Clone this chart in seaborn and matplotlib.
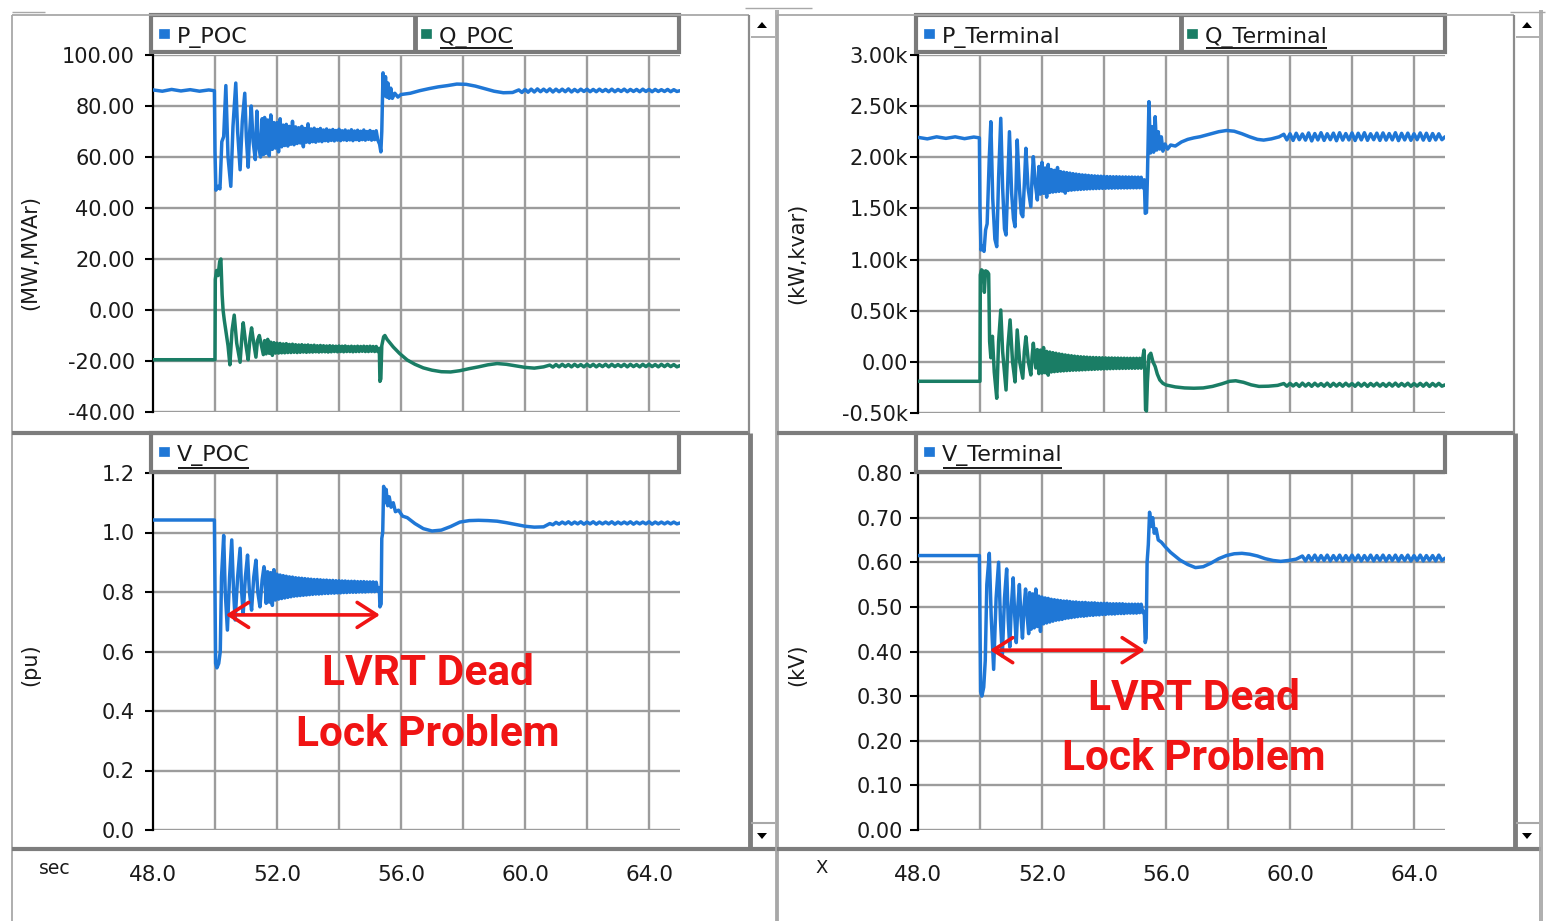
import numpy as np
import pandas as pd
import matplotlib
matplotlib.use("Agg")
import matplotlib.pyplot as plt
import seaborn as sns
from matplotlib.lines import Line2D
from matplotlib.patches import Rectangle, Polygon
from matplotlib.ticker import FuncFormatter

# ---------------- data: (time s, value) ----------------
# event parts (fault, first swings, recovery)
P_POC = [
    (48.00, 86.3), (48.30, 85.8), (48.60, 86.5), (48.90, 85.9), (49.20, 86.4), (49.50, 85.8), (49.80, 86.3), (49.98, 86.0),
    (50.00, 62.0), (50.03, 47.0), (50.10, 48.5), (50.16, 47.5), (50.22, 66.0), (50.28, 68.0), (50.35, 88.0),
    (50.42, 60.0), (50.51, 48.5), (50.58, 72.0), (50.67, 89.0), (50.73, 70.0), (50.81, 55.0), (50.88, 74.0),
    (50.96, 85.0), (51.01, 68.0), (51.07, 56.0), (51.12, 70.0), (51.17, 80.0), (51.23, 66.0), (51.30, 59.0),
    (51.35, 78.0), (51.41, 64.0), (51.47, 60.0), (51.52, 75.0), (51.57, 61.0),
    (55.31, 65.0), (55.35, 62.0), (55.38, 70.0), (55.42, 93.0), (55.46, 84.0), (55.50, 91.5), (55.54, 83.5),
    (55.58, 89.0), (55.62, 83.0), (55.67, 87.0), (55.72, 83.0), (55.80, 85.0), (55.90, 83.5), (56.00, 84.5),
    (56.30, 85.0), (56.60, 86.0), (56.90, 86.8), (57.20, 87.5), (57.50, 88.0), (57.80, 88.6), (58.10, 88.5),
    (58.40, 87.8), (58.70, 86.8), (59.00, 85.8), (59.30, 85.2), (59.60, 85.3), (65.00, 86.0),
]
P_POC_BAND_HI = [75.5, 74.5, 76.5, 73.5, 73.5, 75.0, 72.5, 72.8, 72.0, 74.0, 71.8, 71.5, 72.0, 71.2, 73.0, 71.0,
                 71.3, 70.8, 71.2, 70.6, 71.0, 70.5, 70.8, 70.4, 70.9, 70.3, 70.6, 70.2, 70.7, 70.2, 70.5, 70.1,
                 70.6, 70.0, 70.4, 70.0, 70.3]
P_POC_BAND_LO = [61.5, 60.5, 63.0, 63.5, 62.0, 64.0, 64.5, 64.3, 65.0, 64.8, 65.3, 65.5, 64.0, 65.8, 65.6, 66.0,
                 65.8, 66.2, 66.0, 66.4, 66.2, 66.5, 66.3, 66.6, 66.4, 66.7, 66.5, 66.7, 66.4, 66.8, 66.5, 66.8,
                 66.6, 66.9, 66.6, 66.8, 66.7]
P_POC_RIP_HI = [86.3, 86.5, 86.6, 86.7, 86.6, 86.7, 86.6, 86.6, 86.7, 86.5, 86.6, 86.6, 86.5, 86.6, 86.5, 86.6,
                86.5, 86.6, 86.5, 86.5, 86.6, 86.5, 86.5, 86.4, 86.5, 86.4]
P_POC_RIP_LO = [85.3, 85.4, 85.5, 85.6, 85.6, 85.5, 85.6, 85.6, 85.5, 85.6, 85.7, 85.6, 85.6, 85.7, 85.6, 85.6,
                85.7, 85.6, 85.7, 85.6, 85.7, 85.6, 85.7, 85.7, 85.6, 85.7]

Q_POC = [
    (48.00, -19.5), (49.98, -19.5),
    (50.00, -19.5), (50.01, 12.0), (50.05, 15.5), (50.10, 13.5), (50.15, 19.0), (50.19, 20.0), (50.23, 6.0),
    (50.26, 0.0), (50.30, -4.0), (50.36, -9.0), (50.42, -14.0), (50.48, -21.5), (50.55, -8.0), (50.62, -2.0),
    (50.70, -13.0), (50.81, -20.5), (50.87, -10.0), (50.91, -5.0), (51.00, -14.0), (51.07, -19.5), (51.13, -11.0),
    (51.18, -7.0), (51.25, -13.0), (51.32, -18.5), (51.37, -12.0), (51.43, -10.0), (51.50, -14.0), (51.56, -17.5),
    (55.30, -15.0), (55.32, -28.0), (55.35, -27.0), (55.38, -14.0), (55.44, -10.5), (55.48, -10.0), (55.55, -11.5),
    (55.65, -13.0), (55.75, -14.5), (55.95, -17.0), (56.20, -19.6), (56.45, -21.3), (56.72, -22.7), (57.00, -23.6),
    (57.30, -24.2), (57.60, -24.3), (57.90, -23.8), (58.20, -23.0), (58.50, -22.3), (58.80, -21.5), (59.10, -21.0),
    (59.40, -21.3), (59.70, -21.9), (60.00, -22.5), (60.30, -22.8), (60.60, -22.3), (65.00, -21.8),
]
Q_POC_BAND_HI = [-12.0, -11.5, -12.6, -12.8, -13.0, -13.1, -13.3, -13.2, -13.5, -13.4, -13.6, -13.7, -13.6,
                 -13.8, -13.7, -13.9, -13.8, -14.0, -13.9, -14.0, -14.1, -14.0, -14.1, -14.2, -14.1, -14.2,
                 -14.1, -14.3, -14.2, -14.3, -14.2, -14.3, -14.2, -14.3, -14.2, -14.3, -14.3]
Q_POC_BAND_LO = [-17.2, -17.0, -17.8, -16.9, -16.9, -16.8, -16.8, -16.7, -16.7, -16.6, -16.7, -16.6, -16.5,
                 -16.6, -16.5, -16.5, -16.4, -16.5, -16.4, -16.4, -16.5, -16.4, -16.3, -16.4, -16.3, -16.4,
                 -16.3, -16.3, -16.4, -16.3, -16.3, -16.2, -16.3, -16.3, -16.2, -16.3, -16.3]
Q_POC_RIP_HI = [-21.6, -21.4, -21.3, -21.4, -21.3, -21.4, -21.3, -21.3, -21.4, -21.3, -21.3, -21.4, -21.3,
                -21.3, -21.4, -21.3, -21.3, -21.4, -21.3, -21.3, -21.4]
Q_POC_RIP_LO = [-22.4, -22.3, -22.2, -22.3, -22.2, -22.3, -22.2, -22.3, -22.2, -22.3, -22.2, -22.2, -22.3,
                -22.2, -22.3, -22.2, -22.2, -22.3, -22.2, -22.2, -22.3]

V_POC = [
    (48.00, 1.042), (49.98, 1.042),
    (50.00, 0.80), (50.02, 0.56), (50.06, 0.545), (50.12, 0.56), (50.17, 0.60), (50.21, 0.85), (50.28, 0.99),
    (50.33, 0.80), (50.40, 0.672), (50.47, 0.85), (50.54, 0.975), (50.60, 0.80), (50.65, 0.706), (50.73, 0.85),
    (50.81, 0.947), (50.86, 0.80), (50.91, 0.728), (50.98, 0.85), (51.05, 0.924), (51.11, 0.80), (51.18, 0.739),
    (51.25, 0.85), (51.32, 0.907), (51.38, 0.80), (51.45, 0.75), (51.52, 0.84), (51.58, 0.885),
    (55.30, 0.815), (55.32, 0.75), (55.36, 0.76), (55.38, 0.98), (55.41, 1.00), (55.44, 1.155), (55.48, 1.10),
    (55.52, 1.145), (55.57, 1.09), (55.62, 1.12), (55.68, 1.085), (55.75, 1.10), (55.82, 1.07), (55.92, 1.075),
    (56.05, 1.055), (56.20, 1.05), (56.45, 1.03), (56.72, 1.013), (57.00, 1.005), (57.30, 1.008), (57.60, 1.02),
    (57.90, 1.035), (58.20, 1.04), (58.50, 1.041), (58.80, 1.04), (59.10, 1.038), (59.40, 1.033), (59.70, 1.027),
    (60.00, 1.021), (60.30, 1.018), (60.60, 1.019), (65.00, 1.032),
]
V_POC_BAND_HI = [0.872, 0.868, 0.865, 0.875, 0.860, 0.857, 0.855, 0.853, 0.851, 0.850, 0.848, 0.847, 0.846,
                 0.845, 0.844, 0.843, 0.842, 0.842, 0.841, 0.840, 0.840, 0.839, 0.839, 0.838, 0.838, 0.837,
                 0.837, 0.836, 0.836, 0.836, 0.835, 0.835, 0.835, 0.834, 0.834, 0.834, 0.833]
V_POC_BAND_LO = [0.762, 0.766, 0.755, 0.773, 0.776, 0.778, 0.780, 0.782, 0.784, 0.786, 0.787, 0.788, 0.789,
                 0.790, 0.791, 0.792, 0.793, 0.793, 0.794, 0.795, 0.795, 0.796, 0.796, 0.797, 0.797, 0.798,
                 0.798, 0.799, 0.799, 0.799, 0.800, 0.800, 0.800, 0.801, 0.801, 0.801, 0.802]
V_POC_RIP_HI = [1.030, 1.034, 1.035, 1.036, 1.035, 1.036, 1.035, 1.036, 1.035, 1.035, 1.036, 1.035, 1.035,
                1.036, 1.035, 1.035, 1.036, 1.035, 1.035, 1.035, 1.035]
V_POC_RIP_LO = [1.026, 1.028, 1.029, 1.028, 1.029, 1.028, 1.029, 1.028, 1.029, 1.029, 1.028, 1.029, 1.029,
                1.028, 1.029, 1.029, 1.028, 1.029, 1.029, 1.029, 1.029]

P_TERM = [
    (48.00, 2195), (48.30, 2180), (48.60, 2200), (48.90, 2185), (49.20, 2200), (49.50, 2182), (49.80, 2198), (49.98, 2190),
    (50.00, 1500), (50.03, 1094), (50.08, 1130), (50.13, 1080), (50.18, 1289), (50.23, 1350), (50.30, 2000),
    (50.35, 2348), (50.41, 1600), (50.48, 1200), (50.54, 1126), (50.60, 1800), (50.67, 2381), (50.73, 1700),
    (50.79, 1300), (50.84, 1240), (50.90, 1800), (50.95, 2250), (51.02, 1650), (51.08, 1400), (51.13, 1321),
    (51.17, 1800), (51.20, 2169), (51.27, 1700), (51.33, 1450), (51.38, 1419), (51.44, 1800), (51.48, 2088),
    (51.55, 1700), (51.64, 1517), (51.68, 1800), (51.72, 2006), (51.78, 1750), (51.85, 1583),
    (55.30, 1780), (55.33, 1452), (55.37, 1460), (55.40, 1800), (55.45, 2544), (55.50, 2042), (55.55, 2300),
    (55.60, 2050), (55.65, 2397), (55.70, 2071), (55.75, 2250), (55.80, 2080), (55.85, 2200), (55.90, 2060),
    (55.97, 2130), (56.05, 2080), (56.15, 2120), (56.30, 2110), (56.50, 2150), (56.70, 2175), (56.90, 2190),
    (57.10, 2201), (57.40, 2225), (57.70, 2250), (57.95, 2262), (58.20, 2255), (58.45, 2230), (58.70, 2200),
    (58.95, 2175), (59.15, 2168), (59.40, 2180), (59.65, 2200), (65.00, 2200),
]
P_TERM_BAND_HI = [1910, 1950, 1895, 1930, 1880, 1872, 1900, 1860, 1855, 1850, 1845, 1840, 1836, 1832, 1828,
                  1826, 1823, 1820, 1818, 1816, 1815, 1814, 1812, 1811, 1810, 1810, 1809, 1808, 1808, 1807,
                  1807, 1806, 1806, 1805]
P_TERM_BAND_LO = [1640, 1648, 1610, 1656, 1660, 1664, 1667, 1670, 1650, 1676, 1679, 1682, 1684, 1686, 1688,
                  1690, 1692, 1693, 1694, 1695, 1696, 1697, 1698, 1698, 1699, 1699, 1700, 1700, 1700, 1701,
                  1701, 1701, 1702, 1702]
P_TERM_RIP_HI = [2225, 2230, 2235, 2228, 2238, 2232, 2240, 2230, 2236, 2240, 2232, 2238, 2235, 2240, 2230,
                 2236, 2238, 2232, 2240, 2234, 2236, 2230, 2238, 2235, 2232, 2230]
P_TERM_RIP_LO = [2170, 2165, 2172, 2168, 2160, 2170, 2165, 2172, 2162, 2168, 2170, 2164, 2170, 2166, 2172,
                 2165, 2168, 2170, 2163, 2170, 2166, 2172, 2168, 2165, 2170, 2172]

Q_TERM = [
    (48.00, -190), (49.98, -190),
    (50.00, -190), (50.01, 850), (50.05, 900), (50.10, 885), (50.14, 680), (50.18, 890), (50.24, 880), (50.28, 860),
    (50.31, 200), (50.35, 40), (50.40, 250), (50.46, -100), (50.54, -356), (50.60, 200), (50.67, 507), (50.73, 100),
    (50.84, -275), (50.90, 150), (50.97, 410), (51.05, 0), (51.13, -196), (51.17, 100), (51.20, 312), (51.28, 0),
    (51.38, -160), (51.43, 100), (51.48, 246), (51.56, 0), (51.64, -128), (51.68, 50), (51.72, 182), (51.80, -60),
    (55.29, 116), (55.31, 0), (55.34, -470), (55.37, -480), (55.40, -200), (55.45, 60), (55.51, 84), (55.58, 0),
    (55.65, -45), (55.72, -120), (55.80, -177), (55.90, -210), (56.00, -226), (56.30, -245), (56.60, -255),
    (56.90, -258), (57.20, -255), (57.50, -240), (57.80, -215), (58.05, -190), (58.25, -185), (58.50, -200),
    (58.75, -225), (59.00, -240), (59.30, -238), (59.60, -230), (65.00, -225),
]
Q_TERM_BAND_HI = [120, 115, 140, 102, 96, 90, 84, 78, 73, 68, 64, 60, 56, 53, 50, 48, 46, 44, 43, 42, 41, 40,
                  39, 38, 38, 37, 37, 36, 36, 35, 35, 35, 35, 35, 36]
Q_TERM_BAND_LO = [-115, -110, -106, -130, -99, -96, -93, -90, -88, -86, -84, -82, -81, -80, -78, -77, -75,
                  -74, -73, -71, -70, -69, -68, -67, -66, -65, -65, -64, -64, -63, -63, -63, -62, -62]
Q_TERM_RIP_HI = [-212, -210, -212, -208, -211, -209, -212, -208, -210, -211, -209, -212, -208, -210, -211,
                 -209, -212, -210, -208, -211, -209, -212, -210, -209, -211, -210]
Q_TERM_RIP_LO = [-238, -236, -240, -237, -239, -236, -238, -240, -237, -238, -236, -239, -237, -240, -236,
                 -238, -239, -237, -238, -236, -239, -237, -238, -240, -237, -238]

V_TERM = [
    (48.00, 0.615), (49.98, 0.615),
    (50.00, 0.45), (50.02, 0.31), (50.06, 0.300), (50.12, 0.32), (50.17, 0.38), (50.22, 0.55), (50.30, 0.620),
    (50.36, 0.48), (50.44, 0.36), (50.52, 0.52), (50.60, 0.600), (50.66, 0.47), (50.72, 0.39), (50.79, 0.52),
    (50.86, 0.585), (50.91, 0.47), (50.96, 0.41), (51.01, 0.50), (51.07, 0.565), (51.12, 0.48), (51.17, 0.42),
    (51.22, 0.50), (51.27, 0.550), (51.32, 0.48), (51.37, 0.43), (51.42, 0.50), (51.47, 0.540), (51.52, 0.48),
    (51.57, 0.44),
    (55.30, 0.49), (55.33, 0.42), (55.36, 0.43), (55.39, 0.60), (55.43, 0.64), (55.47, 0.712), (55.52, 0.68),
    (55.57, 0.70), (55.62, 0.665), (55.68, 0.675), (55.75, 0.65), (55.85, 0.645), (55.97, 0.635), (56.15, 0.622),
    (56.45, 0.605), (56.70, 0.595), (56.95, 0.588), (57.20, 0.590), (57.45, 0.598), (57.70, 0.608), (57.95, 0.615),
    (58.20, 0.619), (58.45, 0.620), (58.70, 0.618), (58.95, 0.614), (59.20, 0.608), (59.45, 0.604), (59.70, 0.602),
    (59.95, 0.604), (60.20, 0.607), (65.00, 0.609),
]
V_TERM_BAND_HI = [0.532, 0.529, 0.540, 0.524, 0.522, 0.520, 0.519, 0.517, 0.516, 0.515, 0.514, 0.513, 0.513,
                  0.512, 0.511, 0.511, 0.510, 0.510, 0.510, 0.509, 0.509, 0.509, 0.508, 0.508, 0.508, 0.508,
                  0.507, 0.507, 0.507, 0.507, 0.507, 0.506, 0.506, 0.506, 0.506, 0.506, 0.506]
V_TERM_BAND_LO = [0.450, 0.453, 0.456, 0.445, 0.462, 0.464, 0.466, 0.468, 0.470, 0.471, 0.472, 0.474, 0.475,
                  0.476, 0.477, 0.478, 0.479, 0.479, 0.480, 0.481, 0.481, 0.482, 0.482, 0.483, 0.483, 0.484,
                  0.484, 0.484, 0.485, 0.485, 0.485, 0.486, 0.486, 0.486, 0.486, 0.487, 0.487]
V_TERM_RIP_HI = [0.614, 0.615, 0.616, 0.615, 0.616, 0.615, 0.616, 0.615, 0.616, 0.616, 0.615, 0.616, 0.615,
                 0.616, 0.615, 0.616, 0.615, 0.616, 0.615, 0.616, 0.615, 0.615, 0.616]
V_TERM_RIP_LO = [0.603, 0.604, 0.603, 0.604, 0.603, 0.604, 0.603, 0.604, 0.604, 0.603, 0.604, 0.603, 0.604,
                 0.603, 0.604, 0.603, 0.604, 0.603, 0.604, 0.603, 0.604, 0.603, 0.604]

# sample grid of each dense segment: start time of the first "hi" sample
BAND_START = {"P_POC": 51.60, "Q_POC": 51.60, "V_POC": 51.60, "P_TERM": 51.90, "Q_TERM": 51.85, "V_TERM": 51.60}
RIP_START = {"P_POC": 59.80, "Q_POC": 60.80, "V_POC": 60.80, "P_TERM": 59.80, "Q_TERM": 59.80, "V_TERM": 60.40}
BAND_DT = 0.05
RIP_DT = 0.10

TL_YTICKS = [-40, -20, 0, 20, 40, 60, 80, 100]
TL_YLABELS = ["-40.00", "-20.00", "0.00", "20.00", "40.00", "60.00", "80.00", "100.00"]
BL_YTICKS = [0.0, 0.2, 0.4, 0.6, 0.8, 1.0, 1.2]
BL_YLABELS = ["0.0", "0.2", "0.4", "0.6", "0.8", "1.0", "1.2"]
TR_YTICKS = [-500, 0, 500, 1000, 1500, 2000, 2500, 3000]
TR_YLABELS = ["-0.50k", "0.00", "0.50k", "1.00k", "1.50k", "2.00k", "2.50k", "3.00k"]
BR_YTICKS = [0.0, 0.1, 0.2, 0.3, 0.4, 0.5, 0.6, 0.7, 0.8]
BR_YLABELS = ["0.00", "0.10", "0.20", "0.30", "0.40", "0.50", "0.60", "0.70", "0.80"]
X_MAJOR = [48, 50, 52, 54, 56, 58, 60, 62, 64]
X_MINOR = [49, 51, 53, 55, 57, 59, 61, 63, 65]
X_GRID = [50, 52, 54, 56, 58, 60, 62, 64]

ARROW_POC = (50.35, 55.32, 0.723)
ARROW_TERM = (50.32, 55.32, 0.403)

BLUE = "#1f77d6"
GREEN = "#1a7d65"
RED = "#f01414"
GRID = "#9c9c9c"
FRAME_D = "#7d7d7d"
FRAME_L = "#a8a8a8"


def interleave(t0, hi, lo, dt):
    pts = [(round(t0 + 2 * dt * k, 3), v) for k, v in enumerate(hi)]
    pts += [(round(t0 + dt + 2 * dt * k, 3), v) for k, v in enumerate(lo)]
    return pts


def build(name, events, bhi, blo, rhi, rlo):
    pts = list(events)
    pts += interleave(BAND_START[name], bhi, blo, BAND_DT)
    pts += interleave(RIP_START[name], rhi, rlo, RIP_DT)
    df = pd.DataFrame(pts, columns=['t', 'v']).sort_values('t', kind='stable').reset_index(drop=True)
    return df


DF = {
    "P_POC": build("P_POC", P_POC, P_POC_BAND_HI, P_POC_BAND_LO, P_POC_RIP_HI, P_POC_RIP_LO),
    "Q_POC": build("Q_POC", Q_POC, Q_POC_BAND_HI, Q_POC_BAND_LO, Q_POC_RIP_HI, Q_POC_RIP_LO),
    "V_POC": build("V_POC", V_POC, V_POC_BAND_HI, V_POC_BAND_LO, V_POC_RIP_HI, V_POC_RIP_LO),
    "P_TERM": build("P_TERM", P_TERM, P_TERM_BAND_HI, P_TERM_BAND_LO, P_TERM_RIP_HI, P_TERM_RIP_LO),
    "Q_TERM": build("Q_TERM", Q_TERM, Q_TERM_BAND_HI, Q_TERM_BAND_LO, Q_TERM_RIP_HI, Q_TERM_RIP_LO),
    "V_TERM": build("V_TERM", V_TERM, V_TERM_BAND_HI, V_TERM_BAND_LO, V_TERM_RIP_HI, V_TERM_RIP_LO),
}

# ---------------- figure ----------------
W, H = 1547, 921
sns.set_style("white")
plt.rcParams['font.family'] = ['DejaVu Sans']

fig = plt.figure(figsize=(W / 100, H / 100), dpi=100)
fig.patch.set_facecolor("white")


def rect(x0, y0, x1, y1):
    return [x0 / W, 1 - y1 / H, (x1 - x0) / W, (y1 - y0) / H]


def fx(x):
    return x / W


def fy(y):
    return 1 - y / H


def hline(x0, x1, y, c, lw, z=8):
    fig.add_artist(Line2D([fx(x0), fx(x1)], [fy(y), fy(y)], transform=fig.transFigure, color=c, lw=lw,
                          solid_capstyle='butt', zorder=z))


def vline(x, y0, y1, c, lw, z=8):
    fig.add_artist(Line2D([fx(x), fx(x)], [fy(y0), fy(y1)], transform=fig.transFigure, color=c, lw=lw,
                          solid_capstyle='butt', zorder=z))


def tri(cx, cy, up=True):
    s = 5
    if up:
        pts = [(cx - s, cy + 3), (cx + s, cy + 3), (cx, cy - 3)]
    else:
        pts = [(cx - s, cy - 3), (cx + s, cy - 3), (cx, cy + 3)]
    fig.add_artist(Polygon([(fx(a), fy(b)) for a, b in pts], closed=True, transform=fig.transFigure,
                           color="black", lw=0, zorder=9))


def setup(ax, yticks, ylabels, ylim, pad):
    ax.set_xlim(48, 65)
    ax.set_ylim(*ylim)
    ax.set_xticks(X_GRID)
    ax.tick_params(axis='x', length=0, labelbottom=False)
    ax.set_yticks(yticks)
    ax.set_yticklabels(ylabels)
    ax.tick_params(axis='y', direction='out', length=6, width=1.5, color='black', labelsize=15, pad=pad,
                   left=True, labelcolor='#1a1a1a')
    ax.grid(True, color=GRID, lw=1.7)
    ax.set_axisbelow(True)
    for s in ['top', 'right', 'bottom']:
        ax.spines[s].set_visible(False)
    ax.spines['left'].set_color('black')
    ax.spines['left'].set_linewidth(1.6)
    ax.set_xlabel('')
    ax.set_ylabel('')
    ax.patch.set_alpha(0)


def draw(ax, df, color):
    sns.lineplot(data=df, x='t', y='v', ax=ax, color=color, lw=2.5, estimator=None, sort=False,
                 legend=False, zorder=3)


ax_tl = fig.add_axes(rect(153, 55, 680, 412))
ax_bl = fig.add_axes(rect(153, 473, 680, 830))
ax_tr = fig.add_axes(rect(918, 55, 1445, 413))
ax_br = fig.add_axes(rect(918, 473, 1445, 830))

draw(ax_tl, DF["P_POC"], BLUE)
draw(ax_tl, DF["Q_POC"], GREEN)
draw(ax_bl, DF["V_POC"], BLUE)
draw(ax_tr, DF["P_TERM"], BLUE)
draw(ax_tr, DF["Q_TERM"], GREEN)
draw(ax_br, DF["V_TERM"], BLUE)

setup(ax_tl, TL_YTICKS, TL_YLABELS, (-40, 100), 7)
setup(ax_bl, BL_YTICKS, BL_YLABELS, (0, 1.2), 7)
setup(ax_tr, TR_YTICKS, TR_YLABELS, (-500, 3000), 1.5)
setup(ax_br, BR_YTICKS, BR_YLABELS, (0, 0.8), 5)

# annotations
for ax, (t0, t1, lvl), (tx, y1, y2) in [
    (ax_bl, ARROW_POC, (56.87, 0.487, 0.283)),
    (ax_br, ARROW_TERM, (56.90, 0.269, 0.1345)),
]:
    ax.annotate('', xy=(t1, lvl), xytext=(t0, lvl),
                arrowprops=dict(arrowstyle='<->,head_length=0.7,head_width=0.45', color=RED, lw=2.6,
                                mutation_scale=20, shrinkA=0, shrinkB=0), zorder=5)
    ax.text(tx, y1, 'LVRT Dead', color=RED, fontsize=30.5, fontweight='bold', family=['Roboto', 'DejaVu Sans'],
            ha='center', va='baseline', zorder=6)
    ax.text(tx, y2, 'Lock Problem', color=RED, fontsize=30.5, fontweight='bold',
            family=['Roboto', 'DejaVu Sans'], ha='center', va='baseline', zorder=6)

# x-axis strips
for x0, minor in [(153, True), (918, False)]:
    a = fig.add_axes(rect(x0, 848, x0 + 527, 849))
    a.set_xlim(48, 65)
    a.set_ylim(0, 1)
    a.set_yticks([])
    for s in a.spines.values():
        s.set_visible(False)
    a.set_xticks(X_MAJOR)
    a.xaxis.set_major_formatter(FuncFormatter(lambda v, p: f"{v:.1f}" if int(round(v)) % 4 == 0 else ""))
    a.tick_params(axis='x', which='major', direction='out', length=8, width=1.6, color='black', labelsize=15.5,
                  pad=3.5, labelcolor='#1a1a1a')
    if minor:
        a.set_xticks(X_MINOR, minor=True)
        a.tick_params(axis='x', which='minor', direction='out', length=5, width=1.6, color='black')
    a.patch.set_visible(False)

fig.text(fx(55), fy(868), 'sec', ha='center', va='center', fontsize=13.5, color='#1a1a1a')
fig.text(fx(822), fy(868), 'X', ha='center', va='center', fontsize=13, color='#1a1a1a')

# y labels
for x, y, s in [(30, 253, '(MW,MVAr)'), (30, 665, '(pu)'), (797, 253, '(kW,kvar)'), (797, 665, '(kV)')]:
    fig.text(fx(x), fy(y), s, rotation=90, ha='center', va='center', fontsize=15, color='#1a1a1a')

# window frames and scroll bars
for off, right_edge in [(0, 777), (765, 1541)]:
    L = 12 + off
    S = 749 + off
    vline(L, 15, 921, FRAME_L, 1.3)
    hline(L, S, 15, FRAME_L, 1.3)
    hline(L, S + 1, 433, FRAME_D, 3)
    hline(L, right_edge, 849, FRAME_D, 3)
    vline(S, 15, 433, "#8c8c8c", 1.6)
    vline(S + 1, 433, 849, FRAME_D, 3.5)
    vline(right_edge - 1, 10, 921, FRAME_L, 1.3)
    vline(right_edge + 1, 10, 921, FRAME_L, 1.3)
    hline(S + 2, right_edge - 2, 37, FRAME_L, 1.3)
    hline(S + 2, right_edge - 2, 823, FRAME_L, 1.5)
    tri(S + 13, 25, up=True)
    tri(S + 13, 836, up=False)
hline(12, 45, 12, FRAME_L, 1.0)
hline(745, 812, 8, FRAME_L, 1.0)
hline(1510, 1545, 12, FRAME_L, 1.0)

# legend boxes
renderer = fig.canvas.get_renderer()


def legend_box(x0, y0, x1, y1, cells, divider=None):
    fig.add_artist(Rectangle((fx(x0), fy(y1)), (x1 - x0) / W, (y1 - y0) / H, transform=fig.transFigure,
                             fill=True, fc='white', ec='#7a7a7a', lw=3, zorder=6))
    if divider is not None:
        vline(divider, y0, y1, '#7a7a7a', 3.5, z=7)
    ym = y0 + 22
    for cx, label, color, underline in cells:
        fig.add_artist(Rectangle((fx(cx + 6), fy(ym + 1)), 10 / W, 9 / H, transform=fig.transFigure,
                                 fc=color, ec=color, lw=0.5, zorder=7))
        t = fig.text(fx(cx + 24), fy(ym), label, ha='left', va='center', fontsize=16, color='#1a1a1a',
                     zorder=8)
        if underline:
            bb = t.get_window_extent(renderer)
            hline(bb.x0 + 1, bb.x1 - 1, y1 - 4, '#1a1a1a', 1.4, z=9)


legend_box(151, 15, 679, 52, [(153, 'P_POC', BLUE, False), (415, 'Q_POC', GREEN, True)], divider=415)
legend_box(916, 15, 1445, 52, [(918, 'P_Terminal', BLUE, False), (1181, 'Q_Terminal', GREEN, True)],
           divider=1181)
legend_box(151, 433, 679, 472, [(153, 'V_POC', BLUE, True)])
legend_box(916, 433, 1445, 472, [(918, 'V_Terminal', BLUE, True)])

fig.savefig("out.png", dpi=100, facecolor="white")
